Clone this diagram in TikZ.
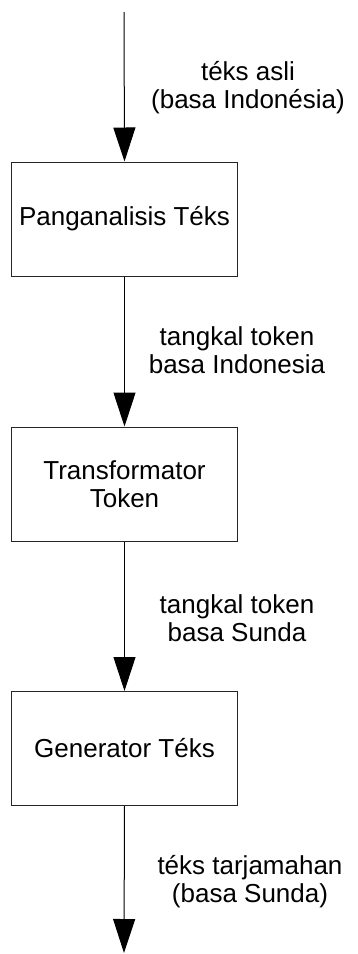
\documentclass[tikz,border=0pt]{standalone}
\usepackage{fontspec}
\setmainfont{Liberation Sans}
\usetikzlibrary{arrows.meta}
\begin{document}
\begin{tikzpicture}[x=1pt,y=-1pt,
  every node/.style={font=\fontsize{26}{28}\selectfont},
  stage/.style={draw=black!85, line width=1pt, minimum width=226pt, minimum height=114pt,
                inner sep=0pt, align=center, fill=white},
  flowlbl/.style={align=center, inner sep=0pt, anchor=base},
  flow/.style={line width=1pt, -{Triangle[width=22pt,length=34pt]}}]
  \useasboundingbox (0,0) rectangle (357,954);

  % processing stages
  \node[stage] (b1) at (124.5,219) {Panganalisis Téks};
  \node[stage] (b2) at (124.5,484) {Transformator\\Token};
  \node[stage] (b3) at (124.5,748.5) {Generator Téks};

  % free ends of the chain
  \coordinate (src) at (124,12);
  \coordinate (dst) at (124,953);

  % data flow between stages
  \draw[flow] (src) -- (b1.north);
  \draw[flow] (b1.south) -- (b2.north);
  \draw[flow] (b2.south) -- (b3.north);
  \draw[flow] (b3.south) -- (dst);

  % labels of the data passed along (anchored at the last line's baseline)
  \node[flowlbl] (l1) at (248,108) {téks asli\\(basa Indonésia)};
  \node[flowlbl] (l2) at (237,373) {tangkal token\\basa Indonesia};
  \node[flowlbl] (l3) at (237,641) {tangkal token\\basa Sunda};
  \node[flowlbl] (l4) at (250,902) {téks tarjamahan\\(basa Sunda)};
\end{tikzpicture}
\end{document}
